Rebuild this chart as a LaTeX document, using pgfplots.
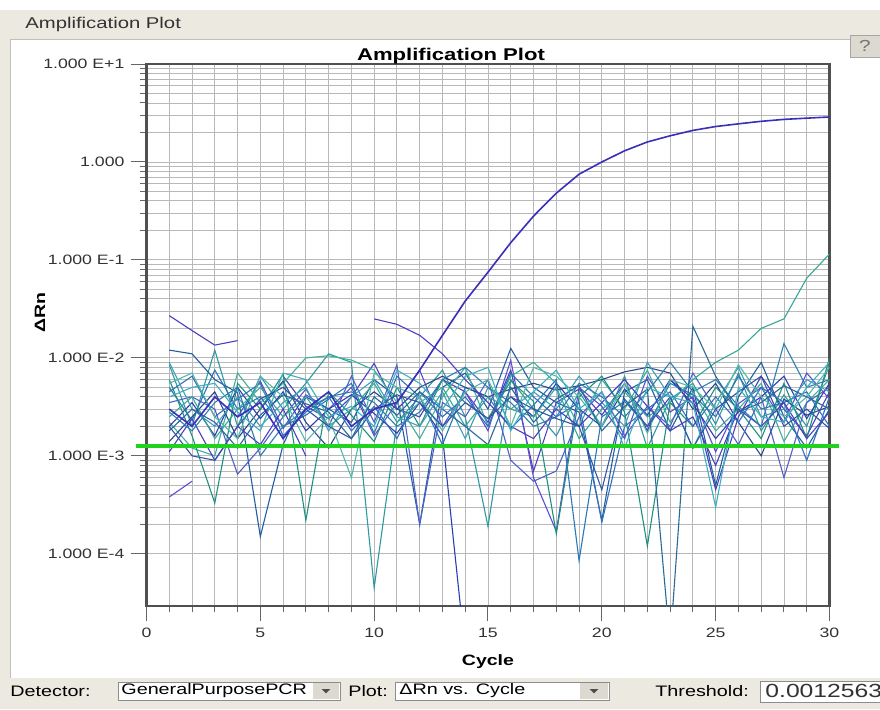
\documentclass[border=0pt]{standalone}
\usepackage{fontspec}
\setmainfont[FakeStretch=1.3]{Liberation Sans}
\usepackage{pgfplots}
\usepackage{pgfplotstable}
\pgfplotsset{compat=1.18}

\definecolor{winbg}{HTML}{ECEAE0}
\definecolor{gridc}{HTML}{B9B9B9}
\definecolor{framec}{HTML}{505050}
\definecolor{thr}{HTML}{1ED21E}
\definecolor{btn}{HTML}{DCD9D0}
\definecolor{cA}{HTML}{4A3FC0}
\definecolor{cB}{HTML}{5B4FD0}
\definecolor{cC}{HTML}{2E9AA0}
\definecolor{cD}{HTML}{1F5FA0}
\definecolor{cE}{HTML}{3DB09A}
\definecolor{cF}{HTML}{2B3FB0}
\definecolor{cG}{HTML}{2778B8}
\definecolor{cH}{HTML}{284890}
\definecolor{cI}{HTML}{5060C8}
\definecolor{cJ}{HTML}{1E9080}
\definecolor{cK}{HTML}{3070C0}
\definecolor{cL}{HTML}{40A0B8}
\definecolor{cAmp}{HTML}{3A2FB8}
\definecolor{cM}{HTML}{35A89A}
\definecolor{cN}{HTML}{2C7FB0}
\definecolor{cO}{HTML}{52B8A8}
\definecolor{cP}{HTML}{3355A8}
\definecolor{cQ}{HTML}{2A6A9A}
\definecolor{cR}{HTML}{3BB0C0}

% delta Rn per well and cycle; nan where the value is negative
\pgfplotstableread{
c s1 s2 s3 s4 s5 s6 s7 s8 s9 s10 s11 s12 s13 s14 s15 s16 s17 s18 s19 s20
1 27e-3 0.38e-3 8.5e-3 12e-3 2.2e-3 2.0e-3 5.0e-3 1.4e-3 3.5e-3 6.0e-3 4.5e-3 9.0e-3 3.0e-3 2.5e-3 1.1e-3 2.8e-3 5.5e-3 2.0e-3 1.8e-3 4.0e-3
2 19e-3 0.55e-3 2.0e-3 11e-3 1.2e-3 3.5e-3 2.3e-3 2.5e-3 4.0e-3 1.6e-3 6.5e-3 3.0e-3 2.0e-3 4.0e-3 2.4e-3 1.8e-3 7.0e-3 1.0e-3 3.0e-3 5.0e-3
3 13.5e-3 nan 12e-3 6.0e-3 1.0e-3 1.6e-3 7.5e-3 4.5e-3 3.0e-3 0.33e-3 2.5e-3 2.0e-3 4.0e-3 1.5e-3 0.9e-3 3.5e-3 2.5e-3 0.9e-3 2.2e-3 5.5e-3
4 15e-3 2.5e-3 2.0e-3 4.4e-3 7.0e-3 5.0e-3 3.0e-3 1.5e-3 0.65e-3 5.5e-3 3.8e-3 4.0e-3 2.5e-3 3.0e-3 2.0e-3 5.0e-3 1.5e-3 2.0e-3 1.2e-3 2.8e-3
5 nan 5.8e-3 6.5e-3 0.15e-3 3.5e-3 2.4e-3 4.0e-3 3.0e-3 1.2e-3 3.0e-3 5.5e-3 2.0e-3 3.5e-3 5.0e-3 1.3e-3 1.0e-3 6.5e-3 3.8e-3 2.6e-3 1.8e-3
6 6.5e-3 1.9e-3 3.0e-3 1.3e-3 5.5e-3 4.5e-3 2.0e-3 5.8e-3 2.5e-3 6.8e-3 1.6e-3 3.5e-3 1.5e-3 2.5e-3 3.0e-3 2.0e-3 4.0e-3 5.0e-3 4.2e-3 7.0e-3
7 3.2e-3 4.2e-3 5.5e-3 4.0e-3 10e-3 1.8e-3 2.6e-3 2.2e-3 4.8e-3 0.22e-3 2.8e-3 5.0e-3 3.0e-3 4.0e-3 1.0e-3 3.0e-3 1.4e-3 3.0e-3 3.4e-3 6.0e-3
8 2.4e-3 3.0e-3 11e-3 3.0e-3 10.5e-3 3.0e-3 3.8e-3 1.2e-3 2.0e-3 4.5e-3 4.0e-3 1.8e-3 4.5e-3 2.0e-3 nan 4.0e-3 2.5e-3 2.0e-3 2.8e-3 2.5e-3
9 4.0e-3 5.0e-3 9.0e-3 2.2e-3 9.5e-3 4.2e-3 5.5e-3 3.0e-3 6.5e-3 2.6e-3 1.8e-3 4.0e-3 2.0e-3 3.0e-3 nan 4.5e-3 0.6e-3 1.5e-3 1.5e-3 3.2e-3
10 8.8e-3 1.6e-3 0.045e-3 6.0e-3 7.5e-3 2.7e-3 1.7e-3 4.5e-3 2.2e-3 1.4e-3 3.2e-3 6.0e-3 3.0e-3 5.5e-3 25e-3 3.5e-3 7.0e-3 3.0e-3 4.0e-3 2.0e-3
11 3.0e-3 3.5e-3 2.2e-3 4.0e-3 3.5e-3 1.7e-3 6.5e-3 3.0e-3 8.5e-3 5.0e-3 1.5e-3 2.5e-3 3.5e-3 2.2e-3 22e-3 2.0e-3 5.0e-3 4.2e-3 2.6e-3 7.5e-3
12 2.5e-3 7.5e-3 4.0e-3 0.2e-3 1.5e-3 3.5e-3 4.0e-3 5.0e-3 0.2e-3 2.0e-3 4.5e-3 2.0e-3 7.5e-3 3.5e-3 17e-3 2.8e-3 4.0e-3 3.5e-3 4.5e-3 5.5e-3
13 6.0e-3 2.0e-3 7.5e-3 5.0e-3 4.0e-3 1.6e-3 1.3e-3 6.5e-3 3.5e-3 6.0e-3 2.5e-3 4.5e-3 17e-3 5.0e-3 11e-3 6.0e-3 1.8e-3 2.0e-3 3.0e-3 3.0e-3
14 4.5e-3 4.5e-3 2.5e-3 7.0e-3 8.0e-3 0.01e-3 5.0e-3 5.0e-3 2.5e-3 3.5e-3 4.0e-3 1.5e-3 38e-3 2.0e-3 6.0e-3 8.0e-3 4.5e-3 3.5e-3 2.0e-3 6.5e-3
15 2.2e-3 1.8e-3 0.19e-3 3.0e-3 2.0e-3 nan 4.0e-3 4.0e-3 6.0e-3 2.4e-3 2.0e-3 5.0e-3 75e-3 4.0e-3 3.5e-3 5.0e-3 6.0e-3 2.4e-3 1.3e-3 8.0e-3
16 7.5e-3 9.5e-3 6.0e-3 12.5e-3 6.5e-3 4.0e-3 1.9e-3 4.8e-3 0.9e-3 5.8e-3 7.0e-3 3.0e-3 150e-3 3.0e-3 2.0e-3 3.5e-3 2.0e-3 4.0e-3 5.0e-3 1.8e-3
17 0.7e-3 0.6e-3 3.0e-3 5.0e-3 9.0e-3 2.5e-3 3.3e-3 5.5e-3 0.55e-3 3.6e-3 4.0e-3 4.5e-3 280e-3 2.5e-3 1.5e-3 2.0e-3 8.0e-3 3.0e-3 2.2e-3 4.5e-3
18 3.5e-3 0.17e-3 1.6e-3 3.5e-3 5.5e-3 5.5e-3 6.0e-3 4.7e-3 0.7e-3 0.16e-3 2.5e-3 3.0e-3 480e-3 5.0e-3 3.0e-3 2.5e-3 6.5e-3 2.4e-3 3.8e-3 7.5e-3
19 4.8e-3 5.0e-3 4.5e-3 2.8e-3 2.0e-3 3.0e-3 0.085e-3 5.2e-3 2.5e-3 4.0e-3 3.5e-3 6.5e-3 750e-3 1.5e-3 2.0e-3 5.5e-3 4.0e-3 2.0e-3 5.2e-3 3.0e-3
20 2.6e-3 3.2e-3 2.0e-3 0.22e-3 6.0e-3 2.0e-3 2.5e-3 6.0e-3 4.5e-3 6.5e-3 0.21e-3 3.5e-3 1000e-3 3.0e-3 3.5e-3 4.0e-3 2.0e-3 0.45e-3 1.8e-3 4.5e-3
21 5.5e-3 1.5e-3 6.5e-3 4.5e-3 3.0e-3 4.8e-3 3.6e-3 7.2e-3 1.6e-3 2.8e-3 2.0e-3 2.0e-3 1300e-3 4.5e-3 6.0e-3 2.5e-3 5.5e-3 3.8e-3 3.2e-3 1.2e-3
22 1.8e-3 6.5e-3 1.2e-3 6.0e-3 7.5e-3 2.6e-3 2.0e-3 8.0e-3 3.2e-3 0.12e-3 3.0e-3 9.0e-3 1600e-3 2.5e-3 3.2e-3 4.5e-3 1.7e-3 2.0e-3 4.8e-3 5.0e-3
23 6.0e-3 2.8e-3 3.8e-3 1.8e-3 2.2e-3 6.0e-3 5.5e-3 7.0e-3 2.0e-3 3.5e-3 4.5e-3 4.0e-3 1850e-3 3.5e-3 1.8e-3 9.0e-3 6.0e-3 4.0e-3 0.012e-3 4.0e-3
24 3.8e-3 4.0e-3 5.5e-3 5.0e-3 4.5e-3 3.4e-3 4.2e-3 3.0e-3 7.0e-3 2.0e-3 2.0e-3 1.2e-3 2100e-3 6.0e-3 2.5e-3 4.5e-3 5.0e-3 1.2e-3 21e-3 3.5e-3
25 0.45e-3 1.1e-3 2.1e-3 0.5e-3 1.8e-3 1.5e-3 2.5e-3 5.5e-3 3.0e-3 5.0e-3 4.0e-3 3.5e-3 2300e-3 9.0e-3 0.8e-3 6.0e-3 3.0e-3 3.0e-3 6.5e-3 0.3e-3
26 2.5e-3 3.4e-3 7.0e-3 4.0e-3 3.0e-3 2.8e-3 6.5e-3 2.2e-3 1.3e-3 3.0e-3 2.2e-3 8.0e-3 2450e-3 12e-3 3.0e-3 3.2e-3 8.5e-3 4.5e-3 2.8e-3 5.0e-3
27 6.5e-3 5.0e-3 1.8e-3 9.0e-3 5.5e-3 4.0e-3 3.0e-3 1.0e-3 4.0e-3 1.5e-3 5.0e-3 2.5e-3 2600e-3 20e-3 2.0e-3 2.0e-3 4.0e-3 6.5e-3 3.5e-3 2.5e-3
28 3.0e-3 2.2e-3 4.2e-3 2.5e-3 1.4e-3 6.5e-3 3.5e-3 3.8e-3 0.6e-3 5.5e-3 3.5e-3 3.0e-3 2720e-3 25e-3 3.5e-3 14e-3 2.5e-3 2.0e-3 5.2e-3 2.2e-3
29 1.6e-3 7.0e-3 2.0e-3 1.2e-3 3.5e-3 2.4e-3 4.5e-3 2.6e-3 3.5e-3 1.5e-3 0.9e-3 6.0e-3 2800e-3 65e-3 1.5e-3 5.0e-3 4.0e-3 3.0e-3 4.0e-3 5.0e-3
30 4.5e-3 3.8e-3 8.5e-3 3.0e-3 6.0e-3 5.5e-3 2.0e-3 3.2e-3 5.0e-3 10e-3 4.0e-3 4.5e-3 2880e-3 115e-3 2.8e-3 6.0e-3 8.0e-3 1.9e-3 3.0e-3 9.0e-3
}\rndata

\newcommand{\ctrlfont}{\fontsize{7.6}{9}\selectfont}

\begin{document}
\begin{tikzpicture}
% window background and panel
\fill[winbg] (0pt,0pt) rectangle (440pt,354.5pt);
\useasboundingbox (0pt,0pt) rectangle (440pt,354.5pt);
\clip (0pt,0pt) rectangle (440pt,354.5pt);
\fill[white] (0pt,349.5pt) rectangle (440pt,354.5pt);
\fill[white] (5pt,15.5pt) rectangle (440pt,334.5pt);
\draw[black!25, line width=0.5pt] (5pt,15.5pt) -- (5pt,334.5pt) -- (440pt,334.5pt);
\node[anchor=west, inner sep=0pt, text=black!80, font=\fontsize{7.8}{9}\selectfont] at (12.5pt,342.5pt) {Amplification Plot};
% help button
\draw[fill=btn, draw=black!35] (425pt,326pt) rectangle (441pt,337pt);
\node[text=black!55, font=\fontsize{8}{9}\selectfont] at (432.5pt,331.5pt) {?};

\begin{axis}[
    at={(73.25pt,51.5pt)}, anchor=south west,
    scale only axis, width=341.5pt, height=271pt,
    ymode=log,
    xmin=0, xmax=30, ymin=2.93e-5, ymax=10,
    xtick={0,5,...,30}, minor x tick num=4,
    ytick={1e-4,1e-3,1e-2,1e-1,1,10},
    yticklabels={1.000 E-4,1.000 E-3,1.000 E-2,1.000 E-1,1.000,1.000 E+1},
    /pgf/number format/assume math mode=true,
    tick pos=left, tick align=outside,
    major tick length=7.5pt, minor tick length=3pt,
    tick style={black!60, line width=0.5pt},
    grid=both,
    major grid style={gridc, line width=0.45pt},
    minor grid style={gridc, line width=0.45pt},
    axis line style={framec, line width=1.1pt},
    ticklabel style={font=\fontsize{6.8}{8}\selectfont, text=black!80},
    title={Amplification Plot},
    every axis title/.style={at={(0.4458,1)}, anchor=base, yshift=2pt,
        font=\bfseries\fontsize{8.5}{10}\selectfont},
    xlabel={Cycle},
    xlabel style={at={(axis description cs:0.5,-0.103)}, anchor=center, font=\bfseries\fontsize{7.5}{9}\selectfont},
    ylabel={ΔRn},
    ylabel style={at={(axis description cs:-0.156,0.542)}, anchor=center, font=\bfseries\fontsize{7.5}{9}\selectfont},
    unbounded coords=jump,
    no markers,
    every axis plot/.append style={line width=0.55pt},
]
\addplot[cA] table[x=c,y=s1] {\rndata};
\addplot[cB] table[x=c,y=s2] {\rndata};
\addplot[cC] table[x=c,y=s3] {\rndata};
\addplot[cD] table[x=c,y=s4] {\rndata};
\addplot[cE] table[x=c,y=s5] {\rndata};
\addplot[cF] table[x=c,y=s6] {\rndata};
\addplot[cG] table[x=c,y=s7] {\rndata};
\addplot[cH] table[x=c,y=s8] {\rndata};
\addplot[cI] table[x=c,y=s9] {\rndata};
\addplot[cJ] table[x=c,y=s10] {\rndata};
\addplot[cK] table[x=c,y=s11] {\rndata};
\addplot[cL] table[x=c,y=s12] {\rndata};
\addplot[cM] table[x=c,y=s14] {\rndata};
\addplot[cA] table[x=c,y=s15] {\rndata};
\addplot[cN] table[x=c,y=s16] {\rndata};
\addplot[cO] table[x=c,y=s17] {\rndata};
\addplot[cP] table[x=c,y=s18] {\rndata};
\addplot[cQ] table[x=c,y=s19] {\rndata};
\addplot[cR] table[x=c,y=s20] {\rndata};
\addplot[cAmp, line width=0.8pt] table[x=c,y=s13] {\rndata};
\end{axis}

% threshold line, drawn unclipped on a matching overlay axis
\begin{axis}[
    at={(73.25pt,51.5pt)}, anchor=south west,
    scale only axis, width=341.5pt, height=271pt,
    ymode=log, xmin=0, xmax=30, ymin=2.93e-5, ymax=10,
    hide axis, clip=false,
]
\addplot[thr, line width=2pt] coordinates {(-0.44,0.0012563) (30.4,0.0012563)};
\end{axis}

% control bar
\node[anchor=west, inner sep=0pt, font=\ctrlfont] at (5pt,9pt) {Detector:};
\draw[fill=white, draw=black!45] (59pt,4.5pt) rectangle (170pt,13.5pt);
\fill[btn] (156.5pt,5pt) rectangle (169.5pt,13pt);
\fill[black!70] (160.8pt,10pt) -- (165.2pt,10pt) -- (163pt,7.8pt) -- cycle;
\node[anchor=west, inner sep=0pt, font=\ctrlfont] at (60.5pt,9pt) {GeneralPurposePCR};
\node[anchor=west, inner sep=0pt, font=\ctrlfont] at (174pt,9pt) {Plot:};
\draw[fill=white, draw=black!45] (197.5pt,4.5pt) rectangle (304.5pt,13.5pt);
\fill[btn] (290pt,5pt) rectangle (304pt,13pt);
\fill[black!70] (294.8pt,10pt) -- (299.2pt,10pt) -- (297pt,7.8pt) -- cycle;
\node[anchor=west, inner sep=0pt, font=\ctrlfont] at (199.5pt,9pt) {ΔRn vs. Cycle};
\node[anchor=west, inner sep=0pt, font=\ctrlfont] at (327.5pt,9pt) {Threshold:};
\draw[fill=white, draw=black!45] (380pt,3.5pt) rectangle (445pt,14pt);
\node[anchor=west, inner sep=0pt, text=black!80, font=\fontsize{9.5}{11}\selectfont] at (382.5pt,9pt) {0.0012563};
\end{tikzpicture}
\end{document}
